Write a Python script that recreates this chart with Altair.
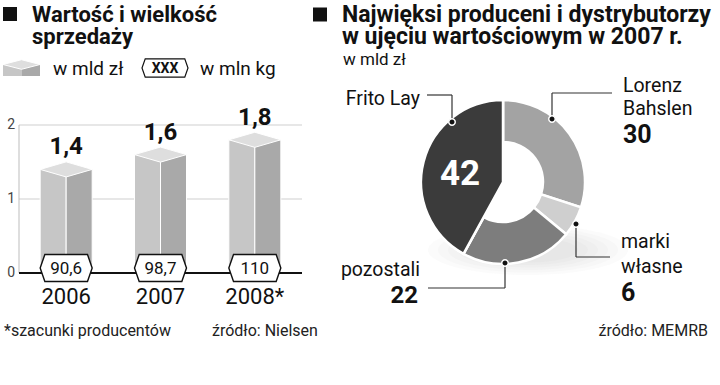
import altair as alt
import pandas as pd

# ---------------- data ----------------
years = ["2006", "2007", "2008*"]
value_bln = [1.4, 1.6, 1.8]            # wartość, w mld zł
volume_mln_kg = [90.6, 98.7, 110]      # wielkość, w mln kg
y_ticks = [0, 1, 2]

companies = ["Lorenz Bahslen", "marki własne", "pozostali", "Frito Lay"]
shares = [30, 6, 22, 42]
pie_colors = ["#a3a3a3", "#cfcfcf", "#7d7d7d", "#3b3b3b"]


def pl(v):
    return str(int(v)) if float(v).is_integer() else f"{v:.1f}".replace(".", ",")


bars = pd.DataFrame({
    "year": years,
    "value": value_bln,
    "vlabel": [pl(v) for v in value_bln],
    "volume": [pl(v) for v in volume_mln_kg],
})
ticks = pd.DataFrame({"t": y_ticks, "tl": [str(t) for t in y_ticks]})
grid = pd.DataFrame({"t": y_ticks[1:]})
pie = pd.DataFrame({"company": companies, "share": shares, "idx": list(range(len(companies)))})
share_of = dict(zip(companies, shares))

FONT = "Roboto"
XS = alt.Scale(domain=years, range=[19, 302], paddingInner=0, paddingOuter=0)
YS = alt.Scale(domain=[0, 2], range=[273, 125])
X = alt.X("year:N", scale=XS, axis=None)


def one(text=""):
    return alt.Chart(pd.DataFrame({"t": [text]}))


def label(text, x, y, size=18, weight="normal", align="left", color="#111", baseline="alphabetic",
          line_height=None):
    kw = dict(font=FONT, fontSize=size, fontWeight=weight, align=align, baseline=baseline, color=color)
    if line_height:
        kw.update(lineBreak="\n", lineHeight=line_height)
    return one(text).mark_text(**kw).encode(x=alt.value(x), y=alt.value(y), text="t:N")


def seg(x1, y1, x2, y2, color="#333", w=1.2):
    return one().mark_rule(color=color, strokeWidth=w).encode(
        x=alt.value(x1), x2=alt.value(x2), y=alt.value(y1), y2=alt.value(y2))


def dot(x, y):
    return one().mark_point(shape="circle", size=42, filled=True, fill="#111", stroke="white",
                            strokeWidth=1.5, opacity=1).encode(x=alt.value(x), y=alt.value(y))


def shape(path, x, y, size, fill, stroke=None, sw=1, opacity=1):
    kw = dict(shape=path, size=size, filled=True, fill=fill, fillOpacity=opacity, opacity=1)
    if stroke:
        kw.update(stroke=stroke, strokeWidth=sw, strokeOpacity=1)
    else:
        kw.update(strokeWidth=0)
    return one().mark_point(**kw).encode(x=alt.value(x), y=alt.value(y))


RHOMB = "M-1,0L0,-0.29L1,0L0,0.29Z"
HEX = "M-1,0L-0.82,-0.52L0.82,-0.52L1,0L0.82,0.52L-0.82,0.52Z"
ELL = "M-1,0A1,0.25,0,1,0,1,0A1,0.25,0,1,0,-1,0Z"

layers = []

# soft shadow under the doughnut
for w in [200, 180, 160, 140, 120, 100]:
    layers.append(shape(ELL, 528, 250, w * w, "#888", opacity=0.035))

# ---------------- left: bar chart ----------------
layers.append(alt.Chart(grid).mark_rule(color="#cfcfcf", strokeWidth=1).encode(
    y=alt.Y("t:Q", scale=YS, axis=None), x=alt.value(19), x2=alt.value(302)))
layers.append(seg(19, 125, 19, 273, color="#bdbdbd", w=1))

base = alt.Chart(bars)
layers.append(base.mark_bar(width=26, xOffset=-13, fill="#c6c6c6", stroke="white", strokeWidth=1).encode(
    x=X, y=alt.Y("value:Q", scale=YS, axis=None), y2=alt.value(279)))
layers.append(base.mark_bar(width=26, xOffset=13, fill="#a9a9a9", stroke="white", strokeWidth=1).encode(
    x=X, y=alt.Y("value:Q", scale=YS, axis=None), y2=alt.value(279)))
layers.append(base.mark_point(shape=RHOMB, size=52 * 52, filled=True, fill="#dedede", stroke="white",
                              strokeWidth=1, opacity=1).encode(
    x=X, y=alt.Y("value:Q", scale=YS, axis=None)))

layers.append(seg(19, 273, 302, 273, color="#111", w=2))

layers.append(base.mark_point(shape=HEX, size=52 * 52, filled=True, fill="white", stroke="#111",
                              strokeWidth=1.4, opacity=1).encode(x=X, y=alt.value(268)))
layers.append(base.mark_text(font=FONT, fontSize=17, color="#111", baseline="middle").encode(
    x=X, y=alt.value(268.5), text="volume:N"))
layers.append(base.mark_text(font=FONT, fontSize=24, fontWeight="bold", color="#111", dy=-15,
                             baseline="alphabetic").encode(
    x=X, y=alt.Y("value:Q", scale=YS, axis=None), text="vlabel:N"))
layers.append(base.mark_text(font=FONT, fontSize=22, color="#111", baseline="alphabetic").encode(
    x=X, y=alt.value(304), text="year:N"))
layers.append(alt.Chart(ticks).mark_text(font=FONT, fontSize=14, color="#444", align="right",
                                         baseline="middle").encode(
    x=alt.value(15), y=alt.Y("t:Q", scale=YS, axis=None), text="tl:N"))

# title + legend (left)
layers.append(shape("square", 10, 14, 196, "#111"))
layers.append(label("Wartość i wielkość\nsprzedaży", 32, 22, size=22, weight="bold", line_height=22))

layers.append(one().mark_rect(fill="#c6c6c6").encode(x=alt.value(3), x2=alt.value(21.5), y=alt.value(64), y2=alt.value(76)))
layers.append(one().mark_rect(fill="#a9a9a9").encode(x=alt.value(21.5), x2=alt.value(40), y=alt.value(64), y2=alt.value(76)))
layers.append(shape("M-1,0L0,-0.26L1,0L0,0.26Z", 21.5, 64.5, 37 * 37, "#dedede", stroke="white", sw=1))
layers.append(label("w mld zł", 53, 75, size=19))
layers.append(shape("M-1,0L-0.86,-0.4L0.86,-0.4L1,0L0.86,0.4L-0.86,0.4Z", 165, 68, 46 * 46, "white",
                    stroke="#111", sw=1.2))
layers.append(label("XXX", 165, 68.5, size=14, weight="bold", align="center", baseline="middle"))
layers.append(label("w mln kg", 200, 75, size=19))

layers.append(label("*szacunki producentów", 4, 336, size=16, color="#222"))
layers.append(label("źródło: Nielsen", 212, 336, size=16, color="#222"))

# ---------------- right: doughnut ----------------
layers.append(shape("square", 320, 14.5, 196, "#111"))
layers.append(label("Najwięksi produceni i dystrybutorzy\nw ujęciu wartościowym w 2007 r.", 342, 22,
                    size=23, weight="bold", line_height=22))
layers.append(label("w mld zł", 343, 65, size=17))

pbase = alt.Chart(pie)
theta = alt.Theta("share:Q", stack=True)
color = alt.Color("company:N", scale=alt.Scale(domain=companies, range=pie_colors), legend=None)
order = alt.Order("idx:Q")
layers.append(pbase.mark_arc(innerRadius=40, outerRadius=82, stroke="white", strokeWidth=2.5).encode(
    theta=theta, color=color, order=order, x=alt.value(503), y=alt.value(182)))
layers.append(pbase.mark_arc(innerRadius=0, outerRadius=82, stroke="white", strokeWidth=2.5).encode(
    theta=theta, color=color, order=order, x=alt.value(503), y=alt.value(182),
    opacity=alt.when(alt.datum.company == "Frito Lay").then(alt.value(1)).otherwise(alt.value(0))))

layers.append(label(str(share_of["Frito Lay"]), 460, 174, size=35, weight="bold", align="center",
                    baseline="middle", color="white"))

# leader lines
layers += [seg(427, 95, 452, 95), seg(452, 95, 452, 122), dot(452, 122)]
layers += [seg(552, 93, 612, 93), seg(552, 93, 552, 119), dot(552, 119)]
layers += [seg(576, 224, 576, 257), seg(576, 257, 610, 257), dot(576, 224)]
layers += [seg(505, 263, 505, 288), seg(428, 288, 505, 288), dot(505, 263)]

layers.append(label("Frito Lay", 420, 105, size=19.5, align="right"))
layers.append(label("Lorenz\nBahslen", 623, 92, size=19.5, line_height=23))
layers.append(label(str(share_of["Lorenz Bahslen"]), 623, 143, size=25, weight="bold"))
layers.append(label("marki\nwłasne", 621, 248, size=19.5, line_height=25))
layers.append(label(str(share_of["marki własne"]), 621, 301, size=25, weight="bold"))
layers.append(label("pozostali", 420, 276, size=19.5, align="right"))
layers.append(label(str(share_of["pozostali"]), 418, 303, size=24, weight="bold", align="right"))

layers.append(label("źródło: MEMRB", 708, 336, size=16, color="#222", align="right"))

chart = alt.layer(*layers).properties(
    width=720, height=385, padding=0,
    autosize=alt.AutoSizeParams(type="none"),
    background="white",
).configure_view(stroke=None)

chart.save("out.html", embed_options={"renderer": "svg", "actions": False})
